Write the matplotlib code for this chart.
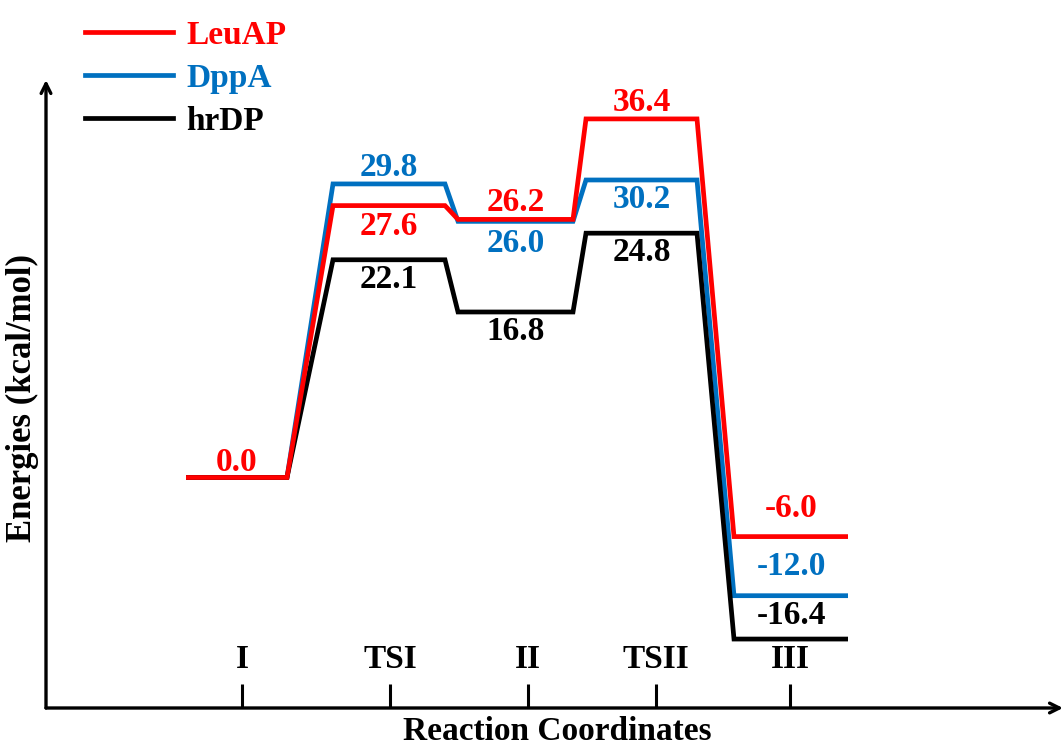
import matplotlib
matplotlib.use("Agg")
import matplotlib.pyplot as plt
from matplotlib.lines import Line2D

plt.rcParams["font.family"] = ["Liberation Serif", "DejaVu Serif"]
plt.rcParams["font.weight"] = "bold"

# Stationary points along the reaction path
stages = ["I", "TSI", "II", "TSII", "III"]

# Relative energies (kcal/mol) for each enzyme
leuap = [0.0, 27.6, 26.2, 36.4, -6.0]
dppa = [0.0, 29.8, 26.0, 30.2, -12.0]
hrdp = [0.0, 22.1, 16.8, 24.8, -16.4]

series_names = ["LeuAP", "DppA", "hrDP"]
series_colors = ["#FF0000", "#0070C0", "#000000"]

# Horizontal layout of the energy levels (x units)
level_start = [1.86, 3.33, 4.58, 5.86, 7.34]
level_end = [2.87, 4.45, 5.73, 6.97, 8.48]
tick_pos = [2.42, 3.90, 5.28, 6.56, 7.90]

# Vertical offsets (points) of each value label relative to its level; None = no label
label_offsets = {
    "LeuAP": [11, -15, 12, 12, 20],
    "DppA": [None, 12, -16, -14, 21],
    "hrDP": [None, -14, -14, -14, 17],
}

fig = plt.figure(figsize=(10.64, 7.45), dpi=100)
W, H = 1064, 745
ax = fig.add_axes([46 / W, (H - 708) / H, (1063 - 46) / W, (708 - 80) / H])
ax.set_xlim(0.46, 10.63)
ax.set_ylim(-23.4, 40.35)

for s in ax.spines.values():
    s.set_visible(False)

# Axes drawn as arrows
arrow_kw = dict(arrowstyle="->,head_length=0.7,head_width=0.35", lw=2.4,
                color="black", shrinkA=0, shrinkB=0)
ax.annotate("", xy=(0, 1), xytext=(0, 0), xycoords="axes fraction",
            textcoords="axes fraction", arrowprops=arrow_kw, annotation_clip=False)
ax.annotate("", xy=(1, 0), xytext=(0, 0), xycoords="axes fraction",
            textcoords="axes fraction", arrowprops=arrow_kw, annotation_clip=False)

zorders = {"LeuAP": 4, "DppA": 2, "hrDP": 3}
all_values = {"LeuAP": leuap, "DppA": dppa, "hrDP": hrdp}

handles = []
for name, color in zip(series_names, series_colors):
    vals = all_values[name]
    xs, ys = [], []
    for x0, x1, v in zip(level_start, level_end, vals):
        xs += [x0, x1]
        ys += [v, v]
    ax.plot(xs, ys, color=color, lw=3.4, solid_joinstyle="miter",
            solid_capstyle="butt", zorder=zorders[name])
    for xc0, xc1, v, off in zip(level_start, level_end, vals, label_offsets[name]):
        if off is None:
            continue
        ax.annotate(f"{v:.1f}", xy=((xc0 + xc1) / 2, v), xytext=(0, off),
                    textcoords="offset points", ha="center", va="center",
                    color=color, fontsize=24, fontweight="bold", zorder=5)
    handles.append(Line2D([], [], color=color, lw=3.4, label=name))

# Stage ticks and labels above the axis
ax.set_yticks([])
ax.set_xticks(tick_pos, stages)
ax.tick_params(axis="x", direction="in", length=17, width=2.2, pad=-24,
               labelsize=24)
for lbl in ax.get_xticklabels():
    lbl.set_fontweight("bold")
    lbl.set_verticalalignment("bottom")

fig.text(557 / W, 1 - 731 / H, "Reaction Coordinates", ha="center", va="center",
         fontsize=24, fontweight="bold")
fig.text(22 / W, 1 - 398 / H, "Energies (kcal/mol)", ha="center", va="center",
         rotation=90, fontsize=25, fontweight="bold")

leg = fig.legend(handles=handles, loc="upper left", bbox_to_anchor=(85 / W, 1 - 20 / H),
                 frameon=False, handlelength=2.65, handletextpad=0.4,
                 labelspacing=0.36, borderpad=0, borderaxespad=0,
                 labelcolor="linecolor", prop={"weight": "bold", "size": 24})

fig.savefig("out.png", dpi=100)
